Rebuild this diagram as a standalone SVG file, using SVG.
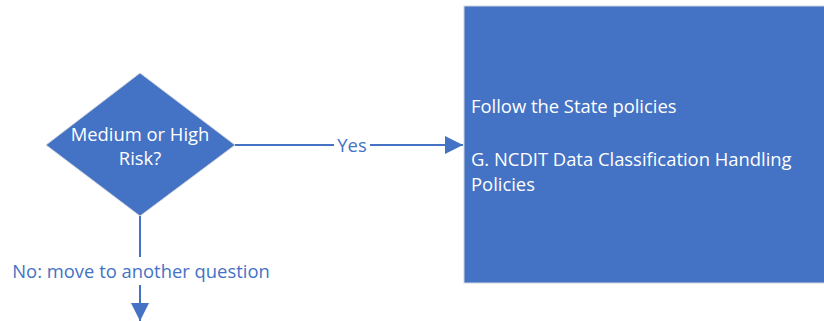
<svg xmlns="http://www.w3.org/2000/svg" width="824" height="321" viewBox="0 0 824 321">
<style>
.shape{fill:#4472C4;stroke:#D0D5DE;stroke-width:1}
.wt{fill:#FFFFFF;font-family:"Open Sans","Liberation Sans",sans-serif;font-size:18.4px}
.lbl{fill:#4472C4;font-family:"Open Sans","Liberation Sans",sans-serif;font-size:18.4px}
.conn{stroke:#4472C4;stroke-width:2;fill:none}
</style>
<defs>
<marker id="arr" viewBox="0 0 10 10" refX="10" refY="5" markerWidth="18" markerHeight="18" markerUnits="userSpaceOnUse" orient="auto">
<path d="M0,0 L10,5 L0,10 Z" fill="#4472C4"/>
</marker>
</defs>
<rect width="824" height="321" fill="#FFFFFF"/>
<g id="decision">
<polygon class="shape" points="140,73 235,145 140,216 46,145"/>
<text class="wt" x="140" y="141" text-anchor="middle">Medium or High</text>
<text class="wt" x="140" y="165" text-anchor="middle">Risk?</text>
</g>
<g id="policies">
<rect class="shape" x="464" y="6" width="370" height="277"/>
<text class="wt" x="471" y="113">Follow the State policies</text>
<text class="wt" x="471" y="166">G. NCDIT Data Classification Handling</text>
<text class="wt" x="471" y="191">Policies</text>
</g>
<g id="connectors">
<line class="conn" x1="235" y1="145" x2="463" y2="145" marker-end="url(#arr)"/>
<rect x="334" y="135" width="36" height="20" fill="#FFFFFF"/>
<text class="lbl" x="352" y="152" text-anchor="middle">Yes</text>
<line class="conn" x1="140" y1="216" x2="140" y2="257"/>
<text class="lbl" x="141" y="278" text-anchor="middle">No: move to another question</text>
<line class="conn" x1="140" y1="285" x2="140" y2="321" marker-end="url(#arr)"/>
</g>
</svg>
